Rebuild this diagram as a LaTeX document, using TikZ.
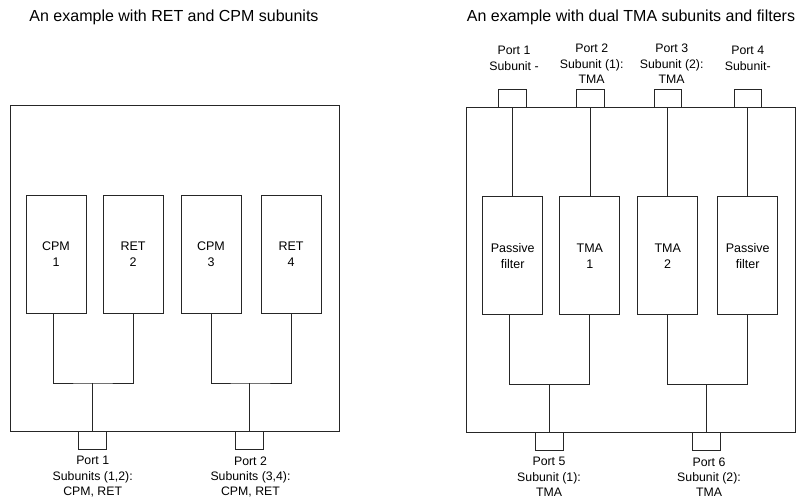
\documentclass[tikz,border=0pt]{standalone}
\usepackage{fontspec}
\setmainfont{Liberation Sans}
\begin{document}
\begin{tikzpicture}[x=1pt,y=-1pt,
  every node/.style={inner sep=0pt,outer sep=0pt},
  line/.style={draw=black!85,line width=0.75pt},
  outerbox/.style={line,rectangle,minimum width=329pt},
  unitbox/.style={line,rectangle,minimum width=60pt,minimum height=118pt,align=center,font=\fontsize{12.5}{16}\selectfont},
  portbox/.style={line,rectangle,minimum width=27.5pt,minimum height=18pt},
  lbl/.style={align=center,font=\fontsize{12.3}{15.3}\selectfont},
  ttl/.style={font=\fontsize{16}{18}\selectfont}
]
\useasboundingbox (0,0) rectangle (798,499);

% ---------------- Left panel ----------------
\node[ttl] (t1) at (174,17.5) {An example with RET and CPM subunits};
\node[outerbox,minimum height=326pt] (oL) at (174.5,268) {};
\node[unitbox] (c1) at (56,254.3) {CPM\\1};
\node[unitbox] (r2) at (133,254.3) {RET\\2};
\node[unitbox] (c3) at (211,254.3) {CPM\\3};
\node[unitbox] (r4) at (291,254.3) {RET\\4};
\node[portbox] (pL1) at (92.6,440) {};
\node[portbox] (pL2) at (249.6,440) {};
\coordinate (hL1) at (92.6,383);
\coordinate (hL2) at (249.6,383);
\draw[line] ([xshift=-2.7pt]c1.south) |- (hL1) -| (r2.south);
\draw[line] (hL1) -- (pL1.north);
\draw[line] (c3.south) |- (hL2) -| (r4.south);
\draw[line] (hL2) -- (pL2.north);
\node[lbl] (lL1) at (92.7,476.8) {Port 1\\Subunits (1,2):\\CPM, RET};
\node[lbl] (lL2) at (250.5,476.8) {Port 2\\Subunits (3,4):\\CPM, RET};

% ---------------- Right panel ----------------
\node[ttl] (t2) at (631,17) {An example with dual TMA subunits and filters};
\node[outerbox,minimum height=325.3pt] (oR) at (631.2,269.65) {};
\node[unitbox] (f1) at (512.7,255.7) {Passive\\filter};
\node[unitbox] (m1) at (589.8,255.7) {TMA\\1};
\node[unitbox] (m2) at (667.7,255.7) {TMA\\2};
\node[unitbox] (f2) at (747.7,255.7) {Passive\\filter};
\node[portbox,minimum height=17.7pt] (pR1) at (512.3,98.2) {};
\node[portbox,minimum height=17.7pt] (pR2) at (590.2,98.2) {};
\node[portbox,minimum height=17.7pt] (pR3) at (667.7,98.2) {};
\node[portbox,minimum height=17.7pt] (pR4) at (747.7,98.2) {};
\draw[line] (pR1.south) -- (pR1.south |- f1.north);
\draw[line] (pR2.south) -- (pR2.south |- m1.north);
\draw[line] (pR3.south) -- (pR3.south |- m2.north);
\draw[line] (pR4.south) -- (pR4.south |- f2.north);
\node[portbox] (pR5) at (549.3,441.5) {};
\node[portbox] (pR6) at (706.3,441.5) {};
\coordinate (hR1) at (549.3,384.3);
\coordinate (hR2) at (706.3,384.3);
\draw[line] ([xshift=-3pt]f1.south) |- (hR1) -| (m1.south);
\draw[line] (hR1) -- (pR5.north);
\draw[line] (m2.south) |- (hR2) -| (f2.south);
\draw[line] (hR2) -- (pR6.north);
\node[lbl] (lR1) at (514,58.2) {Port 1\\Subunit -};
\node[lbl] (lR2) at (591.7,64) {Port 2\\Subunit (1):\\TMA};
\node[lbl] (lR3) at (671.7,64) {Port 3\\Subunit (2):\\TMA};
\node[lbl] (lR4) at (747.7,58.2) {Port 4\\Subunit-};
\node[lbl] (lR5) at (549,476.8) {Port 5\\Subunit (1):\\TMA};
\node[lbl] (lR6) at (709,477.2) {Port 6\\Subunit (2):\\TMA};
\end{tikzpicture}
\end{document}
